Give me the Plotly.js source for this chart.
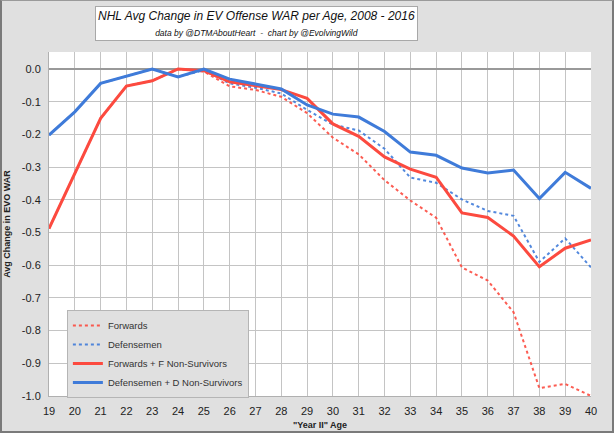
<!DOCTYPE html>
<html>
<head>
<meta charset="utf-8">
<script src="https://cdn.plot.ly/plotly-3.0.1.min.js"></script>
<style>
  html, body { margin: 0; padding: 0; background: #e0e0e0; }
  #wrap { position: relative; width: 614px; height: 433px; }
  #chart { width: 614px; height: 433px; }
  #frame { position: absolute; left: 0; top: 0; width: 614px; height: 433px; box-sizing: border-box;
           border-left: 2px solid #7a7a7a; border-right: 2px solid #7a7a7a; border-bottom: 2px solid #7a7a7a;
           border-top: 1px solid #9a9a9a; pointer-events: none; }
</style>
</head>
<body>
<div id="wrap"><div id="chart"></div><div id="frame"></div></div>
<script>
const ages = [19,20,21,22,23,24,25,26,27,28,29,30,31,32,33,34,35,36,37,38,39,40];
const forwards =   [-0.488,-0.322,-0.151,-0.052,-0.036,0.0,-0.008,-0.053,-0.064,-0.085,-0.135,-0.21,-0.261,-0.34,-0.402,-0.455,-0.607,-0.647,-0.744,-0.976,-0.963,-1.0];
const defensemen = [-0.202,-0.131,-0.044,-0.022,0.0,-0.024,-0.004,-0.044,-0.057,-0.075,-0.125,-0.17,-0.188,-0.244,-0.332,-0.348,-0.399,-0.434,-0.449,-0.59,-0.518,-0.607];
const fwdNonSurv = [-0.488,-0.322,-0.151,-0.052,-0.036,0.0,-0.005,-0.039,-0.051,-0.063,-0.09,-0.168,-0.206,-0.269,-0.306,-0.331,-0.44,-0.454,-0.511,-0.605,-0.548,-0.523];
const defNonSurv = [-0.202,-0.131,-0.044,-0.022,0.0,-0.024,0.0,-0.031,-0.046,-0.061,-0.11,-0.138,-0.147,-0.191,-0.254,-0.264,-0.303,-0.318,-0.309,-0.396,-0.316,-0.365];
const seriesNames = ["Forwards","Defensemen","Forwards + F Non-Survivors","Defensemen + D Non-Survivors"];
const yTickVals = [0,-0.1,-0.2,-0.3,-0.4,-0.5,-0.6,-0.7,-0.8,-0.9,-1.0];
const yTickText = ["0.0","-0.1","-0.2","-0.3","-0.4","-0.5","-0.6","-0.7","-0.8","-0.9","-1.0"];
const titleText = "NHL Avg Change in EV Offense WAR per Age, 2008 - 2016";
const subtitleText = "data by @DTMAboutHeart  -  chart by @EvolvingWild";
const xTitle = "\"Year II\" Age";
const yTitle = "Avg Change in EVO WAR";

const RED = "#fc4a3f", BLUE = "#3f7bd9";
const traces = [
  {x: ages, y: forwards, name: seriesNames[0], mode: "lines", line: {color: "rgba(252,74,63,0.9)", width: 2, dash: "dot"}},
  {x: ages, y: defensemen, name: seriesNames[1], mode: "lines", line: {color: "rgba(63,123,217,0.9)", width: 2, dash: "dot"}},
  {x: ages, y: fwdNonSurv, name: seriesNames[2], mode: "lines", line: {color: RED, width: 3}},
  {x: ages, y: defNonSurv, name: seriesNames[3], mode: "lines", line: {color: BLUE, width: 3}}
];
const font = "Liberation Sans, Arial, Helvetica, sans-serif";
const layout = {
  width: 614, height: 433,
  margin: {l: 49, r: 23, t: 52, b: 37},
  paper_bgcolor: "#e0e0e0",
  plot_bgcolor: "#ffffff",
  font: {family: font, size: 11, color: "#222"},
  showlegend: true,
  legend: {x: 0.033, y: 0.25, xanchor: "left", yanchor: "top", bgcolor: "#e0e0e0",
           bordercolor: "#b5b5b5", borderwidth: 1, font: {family: font, size: 9.5, color: "#333"},
           tracegroupgap: 0, itemwidth: 30},
  xaxis: {range: [19, 40], dtick: 1, tick0: 19, showgrid: true, gridcolor: "#c4c4c4", gridwidth: 1,
          showline: true, linecolor: "#b0b0b0", linewidth: 1, ticks: "", zeroline: false,
          ticklabelstandoff: 5,
          tickfont: {size: 11, color: "#222"}, fixedrange: true,
          title: {text: "<b>" + xTitle + "</b>", font: {size: 9, color: "#222"}, standoff: 5}},
  yaxis: {range: [-1.0, 0.052], tickvals: yTickVals, ticktext: yTickText, showgrid: true,
          gridcolor: "#c4c4c4", gridwidth: 1, zeroline: true, zerolinecolor: "#999999", zerolinewidth: 2,
          showline: true, linecolor: "#b0b0b0", linewidth: 1, ticks: "", ticklabelstandoff: 5,
          tickfont: {size: 11, color: "#222"},
          title: {text: "<b>" + yTitle + "</b>", font: {size: 9, color: "#222"}, standoff: 9}},
  annotations: [{
    xref: "paper", yref: "paper", x: 0.383, y: 1.083, xanchor: "center", yanchor: "middle",
    text: "<i>" + titleText + "</i><br><i><span style='font-size:8.5px'>" + subtitleText + "</span></i>",
    showarrow: false, align: "center", bgcolor: "#ffffff", bordercolor: "#a8a8a8", borderwidth: 1,
    borderpad: 2, font: {family: font, size: 12, color: "#111"}
  }]
};
Plotly.newPlot("chart", traces, layout, {displayModeBar: false, staticPlot: true});
</script>
</body>
</html>
